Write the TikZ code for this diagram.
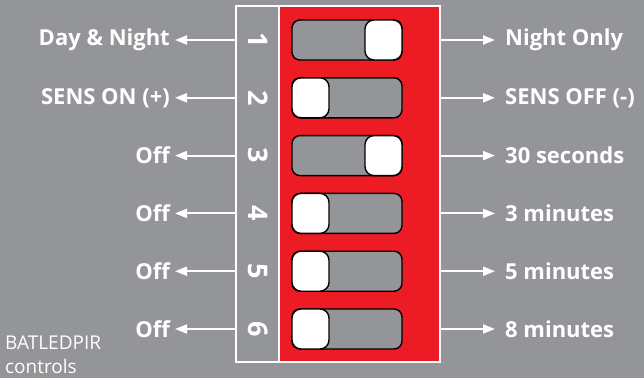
\documentclass[tikz,border=0pt]{standalone}
\usepackage{fontspec}
\setmainfont{Open Sans}
\usetikzlibrary{arrows.meta}
\definecolor{bggray}{HTML}{939598}
\definecolor{dipred}{HTML}{ED1C24}
\tikzset{
  lbl/.style={text=white,font=\fontsize{22}{24}\selectfont\bfseries,inner sep=0pt},
  num/.style={text=white,font=\fontsize{27}{28}\selectfont\bfseries,inner sep=0pt,rotate=-90},
  conn/.style={draw=white,line width=2pt,-{Triangle[length=12pt,width=9pt]}},
  track/.style={draw=black,line width=1.4pt,fill=bggray,rounded corners=8pt},
  knob/.style={draw=black,line width=1.4pt,fill=white,rounded corners=9pt},
}
\begin{document}
\begin{tikzpicture}[x=1pt,y=-1pt]
\fill[bggray] (0,0) rectangle (644,378);
\useasboundingbox (0,0) rectangle (644,378);
% red area and frame
\fill[dipred] (279,6) rectangle (440,362);
\draw[white,line width=2pt] (236,6) rectangle (440,362);
\draw[white,line width=2pt] (279,6) -- (279,362);
% rows
\foreach \i/\k/\l/\r in {1/R/Day \& Night/Night Only,2/L/SENS ON (+)/SENS OFF (-),3/R/Off/30 seconds,4/L/Off/3 minutes,5/L/Off/5 minutes,6/L/Off/8 minutes}{
  \pgfmathsetmacro{\yy}{40+57.8*(\i-1)}
  \coordinate (l\i) at (236,\yy);
  \coordinate (r\i) at (441,\yy);
  \coordinate (lt\i) at (175,\yy);
  \coordinate (rt\i) at (495,\yy);
  \node[num] (n\i) at (258,\yy) {\i};
  \draw[track] (292,\yy-20) rectangle (402,\yy+20);
  \if\k R
    \draw[knob] (365,\yy-20) rectangle (402,\yy+20);
  \else
    \draw[knob] (292,\yy-20) rectangle (329,\yy+20);
  \fi
  \node[lbl,anchor=east] (a\i) at (170,\yy) {\l};
  \node[lbl,anchor=west] (b\i) at (505,\yy) {\r};
  \draw[conn] (l\i) -- (lt\i);
  \draw[conn] (r\i) -- (rt\i);
}
\node[text=white,font=\fontsize{19}{24}\selectfont,anchor=base west,align=left,inner sep=0pt] (cap) at (5,373) {BATLEDPIR\\controls};
\end{tikzpicture}
\end{document}
